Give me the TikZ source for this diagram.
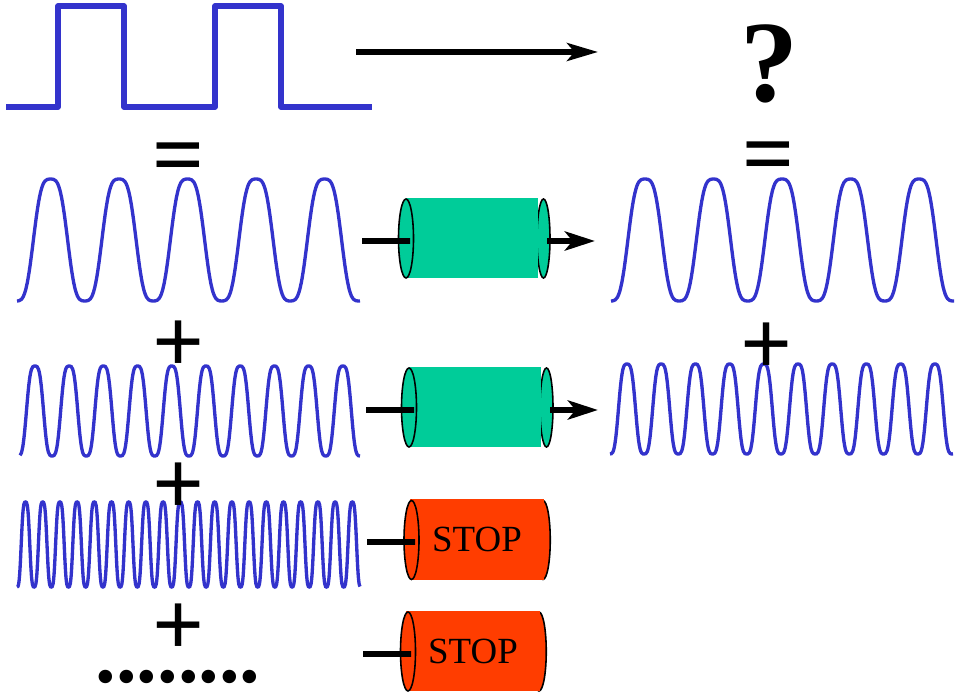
\documentclass[tikz,border=0pt]{standalone}
\usepackage{fontspec}
\setmainfont{Liberation Serif}
\usetikzlibrary{arrows.meta,shapes.geometric}

\begin{document}
\begin{tikzpicture}[x=0.02cm,y=-0.02cm]
    \tikzstyle{square} = [draw={rgb,255:red,51;green,51;blue,204}, line width=3.2pt, line join=round]
    \tikzstyle{wave} = [draw={rgb,255:red,51;green,51;blue,204}, line width=1.9pt, smooth]
    \tikzstyle{bar} = [line width=3.4pt]
    \tikzstyle{arrow} = [line width=3.4pt, -{Stealth[length=0.6cm,width=0.38cm,inset=0.15cm]}]
    \tikzstyle{toparrow} = [line width=3pt, -{Stealth[length=0.62cm,width=0.36cm,inset=0.15cm]}]
    \tikzstyle{sign} = [inner sep=0pt, font=\fontsize{52}{52}\selectfont\bfseries]
    \tikzstyle{gotube} = [rectangle, inner sep=0pt, minimum width=2.64cm, minimum height=1.62cm, fill={rgb,255:red,0;green,204;blue,153}]
    \tikzstyle{gocap} = [ellipse, inner sep=0pt, draw=black, line width=0.9pt, minimum width=0.27cm, minimum height=1.58cm, fill={rgb,255:red,0;green,204;blue,153}]
    \tikzstyle{stoptube} = [rectangle, inner sep=0pt, minimum width=2.7cm, minimum height=1.62cm, fill={rgb,255:red,255;green,61;blue,0}, font=\fontsize{21}{21}\selectfont]
    \tikzstyle{stopcap} = [ellipse, inner sep=0pt, draw=black, line width=0.9pt, minimum width=0.29cm, minimum height=1.58cm, fill={rgb,255:red,255;green,61;blue,0}]

    \useasboundingbox (0,0) rectangle (960,695);

    % Square wave and its question
    \draw [square] (6,107) -- (58,107) -- (58,6) -- (124,6) -- (124,107) -- (215,107) -- (215,6) -- (281,6) -- (281,107) -- (372,107);
    \coordinate (in0) at (356,52);
    \coordinate (out0) at (598,52);
    \draw [toparrow] (in0) -- (out0);
    \node (question) [sign, font=\fontsize{66}{66}\selectfont\bfseries] at (769,64) {?};

    % Harmonics on the input side
    \draw [wave] plot [domain=17:360, samples=160] (\x, {240-67.8*cos(5.2555*(\x-50.5))+6.8*cos(15.767*(\x-50.5))});
    \draw [wave] plot [domain=20:360, samples=240] (\x, {411-50*cos(10.526*(\x-35))+5*cos(31.58*(\x-35))});
    \draw [wave] plot [domain=17:360, samples=400] (\x, {544.5-47.2*cos(20.93*(\x-25.5))+4.7*cos(62.79*mod(\x-25.5,17.2))});

    % Harmonics on the output side
    \draw [wave] plot [domain=611:954, samples=160] (\x, {240-67.8*cos(5.2555*(\x-645))+6.8*cos(15.767*(\x-645))});
    \draw [wave] plot [domain=610:953, samples=240] (\x, {409-50*cos(10.526*(\x-627))+5*cos(31.58*(\x-627))});

    % Signs between the rows
    \node (eqleft) [sign] at (179,164) {=};
    \node (eqright) [sign] at (769,163) {=};
    \node (plusleft1) [sign] at (179,347) {+};
    \node (plusright1) [sign] at (767,349) {+};
    \node (plusleft2) [sign] at (179,489) {+};
    \node (plusleft3) [sign] at (179,630) {+};
    \node (dots) [sign, font=\fontsize{47}{47}\selectfont\bfseries] at (178,677) {........};

    % Tubes
    \node (cap1) [gocap, minimum width=0.26cm] at (543.5,238.5) {};
    \node (tube1) [gotube] at (472,238) {};
    \node (mouth1) [gocap, minimum width=0.3cm] at (406,238.5) {};
    \node (cap2) [gocap, minimum width=0.26cm] at (546.5,407.5) {};
    \node (tube2) [gotube] at (475,407) {};
    \node (mouth2) [gocap, minimum width=0.3cm] at (409,407.5) {};
    \node (cap3) [stopcap] at (543,540) {};
    \node (tube3) [stoptube] at (477,539.5) {STOP};
    \node (mouth3) [stopcap, minimum width=0.3cm] at (411.5,540) {};
    \node (cap4) [stopcap] at (539,651.5) {};
    \node (tube4) [stoptube] at (473,651) {STOP};
    \node (mouth4) [stopcap, minimum width=0.3cm] at (408,651.5) {};

    % Stubs going in, arrows coming out
    \coordinate (in1) at (362,241);
    \coordinate (out1) at (595,241);
    \coordinate (in2) at (366,410);
    \coordinate (out2) at (598,410);
    \coordinate (in3) at (367,542);
    \coordinate (in4) at (363,654);
    \draw [bar] (in1) -- ([xshift=0.08cm,yshift=-0.05cm]mouth1.center);
    \draw [bar] (in2) -- ([xshift=0.1cm,yshift=-0.05cm]mouth2.center);
    \draw [bar] (in3) -- ([xshift=0.07cm,yshift=-0.04cm]mouth3.center);
    \draw [bar] (in4) -- ([xshift=0.06cm,yshift=-0.05cm]mouth4.center);
    \draw [arrow] ([xshift=0.07cm,yshift=-0.05cm]cap1.center) -- (out1);
    \draw [arrow] ([xshift=0.07cm,yshift=-0.05cm]cap2.center) -- (out2);
\end{tikzpicture}
\end{document}
